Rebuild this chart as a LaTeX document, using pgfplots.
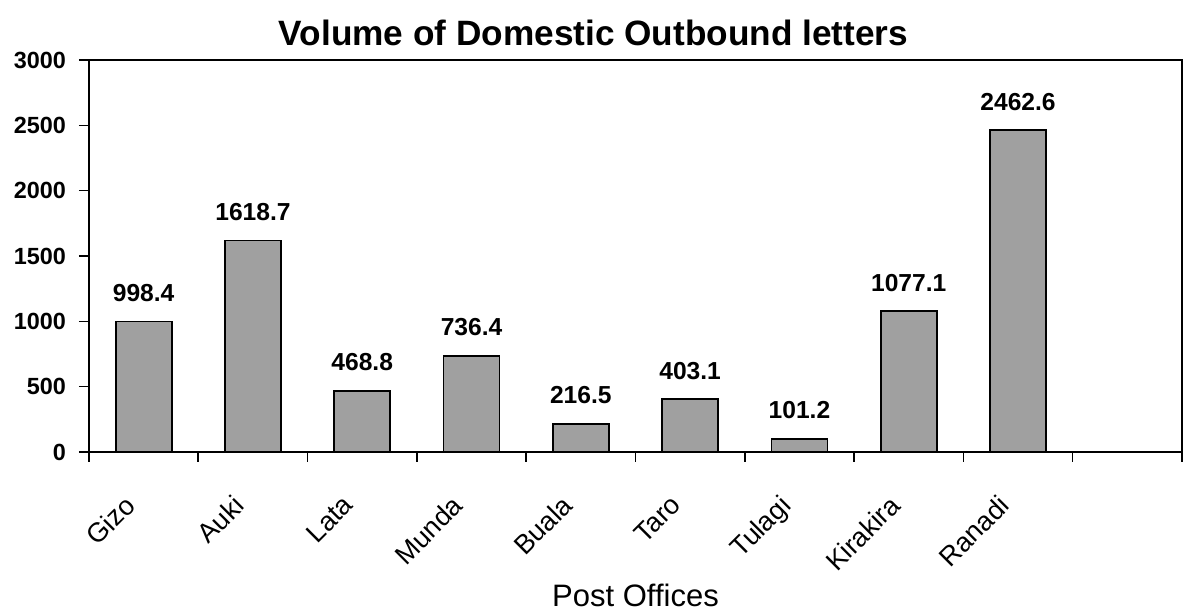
\documentclass[border=0pt]{standalone}
\usepackage{fontspec}
\setmainfont{Liberation Sans}
\usepackage{pgfplots}
\pgfplotsset{compat=1.18}
\definecolor{barfill}{RGB}{160,160,160}
\begin{document}
\begin{tikzpicture}
\useasboundingbox (-44.5pt,-81.5pt) rectangle (548pt,226pt);
\begin{axis}[
  at={(0,0)}, anchor=south west,
  scale only axis,
  width=546.5pt, height=196pt,
  xmin=-0.5, xmax=9.5,
  ymin=0, ymax=3000,
  ytick={0,500,...,3000},
  xtick={0,...,8},
  xticklabels={Gizo,Auki,Lata,Munda,Buala,Taro,Tulagi,Kirakira,Ranadi},
  minor xtick={-0.5,0.5,...,9.5},
  major x tick style={draw=none},
  tick pos=left,
  tick align=outside,
  major tick length=5pt,
  minor tick length=5pt,
  tick style={black, line width=0.8pt},
  axis line style={black, line width=1pt},
  /pgf/number format/assume math mode=true,
  /pgf/number format/1000 sep={},
  scaled y ticks=false,
  yticklabel style={font=\fontsize{11.7}{14}\selectfont\bfseries, xshift=-3pt},
  xticklabel style={font=\fontsize{13.5}{16}\selectfont, xshift=-10.4pt, yshift=-10.9pt, rotate=45, anchor=north east},
  xlabel={Post Offices},
  xlabel style={font=\fontsize{15.5}{18}\selectfont, at={(axis description cs:0.5,0)}, anchor=base, yshift=-77.5pt},
  title={Volume of Domestic Outbound letters},
  title style={font=\fontsize{17.6}{21}\selectfont\bfseries, at={(axis description cs:0.4616,1)}, anchor=base, yshift=1.25pt},
  ybar, bar width=28pt,
  nodes near coords,
  nodes near coords style={font=\fontsize{12.3}{15}\selectfont\bfseries, inner sep=0pt, anchor=south, yshift=9.5pt, /pgf/number format/.cd, fixed, precision=1, fixed zerofill, 1000 sep={}},
]
\addplot[fill=barfill, draw=black, line width=0.9pt] coordinates {
  (0,998.4) (1,1618.7) (2,468.8) (3,736.4) (4,216.5)
  (5,403.1) (6,101.2) (7,1077.1) (8,2462.6)
};
\end{axis}
\end{tikzpicture}
\end{document}
